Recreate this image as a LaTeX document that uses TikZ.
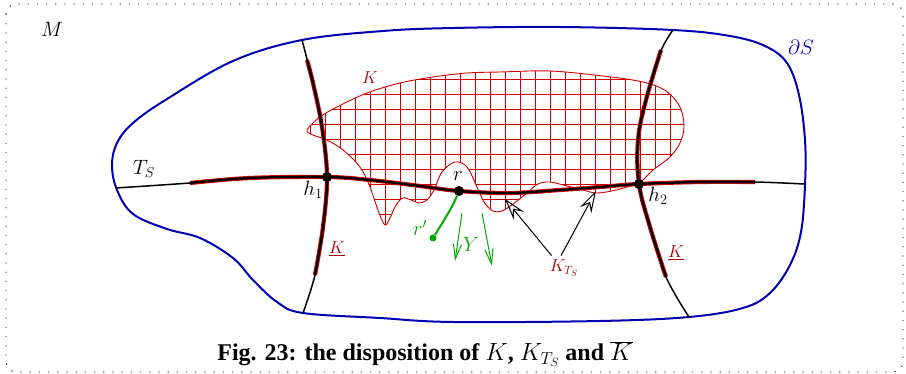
\documentclass[tikz,border=0pt]{standalone}
\usepackage{fontspec}
\setmainfont{Liberation Serif}
\usetikzlibrary{arrows.meta}
\definecolor{bnd}{HTML}{0000B0}
\definecolor{kred}{HTML}{A00000}
\definecolor{gridred}{HTML}{D00000}
\definecolor{hil}{HTML}{D00000}
\definecolor{grn}{HTML}{00A800}
\begin{document}
\begin{tikzpicture}[x=1pt,y=-1pt,
  lab/.style={font=\fontsize{20.74}{24}\selectfont, inner sep=0pt},
  klab/.style={font=\fontsize{17.28}{20}\selectfont, inner sep=0pt, text=kred},
  bndline/.style={draw=bnd, line width=2pt},
  thinblack/.style={draw=black, line width=1.5pt},
  redhl/.style={draw=hil, line width=4.2pt},
  thickblack/.style={draw=black, line width=2.3pt},
  gridline/.style={draw=gridred, line width=0.9pt},
  kline/.style={draw=gridred, line width=0.9pt},
  pointer/.style={draw=black, line width=1pt, -{Stealth[open, length=22pt, width=13pt, inset=8pt]}},
  yarrow/.style={draw=grn, line width=1pt, -{Straight Barb[length=15pt, width=8pt]}},
  dot/.style={circle, fill=black, inner sep=0pt, minimum size=10pt}]
\useasboundingbox (0,0) rectangle (906,374);
\draw[line width=0.9pt, dash pattern=on 1.2pt off 8pt, rounded corners=10pt] (6,4) rectangle (903,372);

% K region grid
\begin{scope}
\clip plot[smooth cycle, tension=0.55] coordinates {(307,130) (320,117) (337,107) (367,93) (400,83) (433,77) (467,73) (500,72) (550,71) (603,76) (643,82) (666,91) (680,107) (684,127) (680,143) (670,157) (653,170) (640,182) (620,189) (597,193) (580,189) (567,186) (550,182) (538,184) (527,193) (513,204) (502,211) (493,211) (484,202) (477,187) (467,167) (455,162) (442,172) (434,190) (427,200) (419,203) (411,200) (403,198) (396,205) (390,218) (385,225) (379,213) (370,187) (360,167) (343,150) (327,140) (313,135)};
\foreach \x in {310,325,...,700} \draw[gridline] (\x,60) -- (\x,235);
\foreach \y in {64,79,...,235} \draw[gridline] (300,\y) -- (700,\y);
\end{scope}
\draw[kline] plot[smooth cycle, tension=0.55] coordinates {(307,130) (320,117) (337,107) (367,93) (400,83) (433,77) (467,73) (500,72) (550,71) (603,76) (643,82) (666,91) (680,107) (684,127) (680,143) (670,157) (653,170) (640,182) (620,189) (597,193) (580,189) (567,186) (550,182) (538,184) (527,193) (513,204) (502,211) (493,211) (484,202) (477,187) (467,167) (455,162) (442,172) (434,190) (427,200) (419,203) (411,200) (403,198) (396,205) (390,218) (385,225) (379,213) (370,187) (360,167) (343,150) (327,140) (313,135)};

% boundary of S
\draw[bndline] plot[smooth cycle, tension=0.6] coordinates {(302,40) (383,31) (453,28) (560,27) (673,30) (730,36) (765,46) (787,63) (799,95) (805,140) (805,185) (801,232) (790,265) (770,293) (743,308) (689,317) (600,321) (453,322) (380,318) (303,313) (277,302) (253,280) (233,258) (200,238) (167,229) (133,214) (117,190) (112,165) (117,143) (133,123) (167,99) (233,61)};

% T_S
\draw[thinblack] plot[smooth, tension=0.6] coordinates {(116,188) (190,183) (250,178) (327,177) (370,180) (420,186) (459,191) (510,193) (560,190) (600,187) (639,184) (700,182) (755,182) (804,184)};
\draw[redhl] plot[smooth, tension=0.6] coordinates {(190,183) (250,178) (327,177) (370,180) (420,186) (459,191) (510,193) (560,190) (600,187) (639,184) (700,182) (755,182)};
\draw[thickblack] plot[smooth, tension=0.6] coordinates {(190,183) (250,178) (327,177) (370,180) (420,186) (459,191) (510,193) (560,190) (600,187) (639,184) (700,182) (755,182)};

% h1 curve
\draw[thinblack] plot[smooth, tension=0.6] coordinates {(302,40) (313,83) (322,127) (327,177) (323,227) (315,275) (303,313)};
\draw[redhl] plot[smooth, tension=0.6] coordinates {(307,60) (313,83) (322,127) (327,177) (323,227) (315,275)};
\draw[thickblack] plot[smooth, tension=0.6] coordinates {(307,60) (313,83) (322,127) (327,177) (323,227) (315,275)};

% h2 curve
\draw[thinblack] plot[smooth, tension=0.6] coordinates {(673,30) (660,53) (646,100) (638,140) (639,184) (650,227) (666,277) (689,317)};
\draw[redhl] plot[smooth, tension=0.6] coordinates {(661,50) (646,100) (638,140) (639,184) (650,227) (666,277)};
\draw[thickblack] plot[smooth, tension=0.6] coordinates {(661,50) (646,100) (638,140) (639,184) (650,227) (666,277)};

% points
\node[dot] (h1) at (327,177) {};
\node[dot] (h2) at (639,184) {};
\node[dot] (r) at (459,191) {};
\node[circle, fill=grn, inner sep=0pt, minimum size=7pt] (rp) at (433,238) {};
\draw[draw=grn, line width=2pt] (r) .. controls (452,208) and (443,222) .. (rp);

% Y arrows
\coordinate (y1s) at (462,213);
\coordinate (y1e) at (455,261);
\coordinate (y2s) at (482,213);
\coordinate (y2e) at (492,266);
\draw[yarrow] (y1s) -- (y1e);
\draw[yarrow] (y2s) -- (y2e);

% labels
\node[lab] (M) at (52,29) {$M$};
\node[lab, text=bnd] (dS) at (801,47) {$\partial S$};
\node[klab] (Klab) at (370,78) {$K$};
\node[lab] (TS) at (144,169) {$T_S$};
\node[lab] (h1lab) at (313,190) {$h_1$};
\node[lab] (rlab) at (458,176) {$r$};
\node[lab] (h2lab) at (658,196) {$h_2$};
\node[lab, text=grn] (rplab) at (420,228) {$r'$};
\node[lab, text=grn] (Ylab) at (471,244) {$Y$};
\node[klab] (Kl) at (337,249) {$\underline{K}$};
\node[klab] (Kr) at (676,253) {$\underline{K}$};
\node[klab, font=\fontsize{18}{20}\selectfont] (KTS) at (564,268) {$K_{T_S}$};

% pointers
\coordinate (t1) at (505,199);
\coordinate (t2) at (596,191);
\draw[pointer] (KTS.north west) ++(2,-4) coordinate (p1) -- (t1);
\draw[pointer] (KTS.north) ++(-3,-4) coordinate (p2) -- (t2);

% caption
\node[inner sep=0pt] (cap) at (425,354) {\fontsize{24}{28}\selectfont\bfseries Fig. 23: the disposition of $K$, $K_{T_S}$ and $\overline{K}$};
\end{tikzpicture}
\end{document}
